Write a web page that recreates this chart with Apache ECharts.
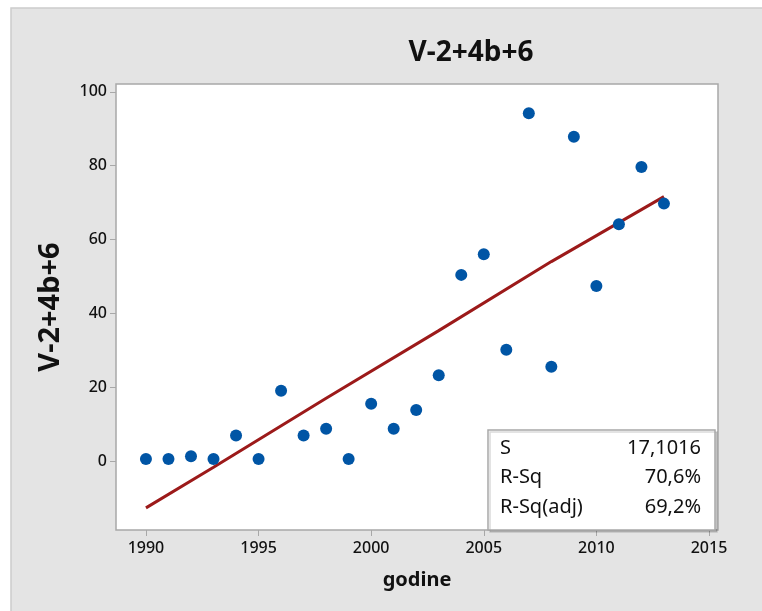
<!DOCTYPE html>
<html><head><meta charset="utf-8">
<script src="https://cdn.jsdelivr.net/npm/echarts@6/dist/echarts.min.js"></script>
<style>html,body{margin:0;padding:0;background:#fff}#c{width:762px;height:611px}</style>
</head><body><div id="c"></div>
<script>
const years = [1990,1991,1992,1993,1994,1995,1996,1997,1998,1999,2000,2001,2002,2003,2004,2005,2006,2007,2008,2009,2010,2011,2012,2013];
const values = [0.5,0.5,1.3,0.5,6.9,0.5,19.0,6.9,8.7,0.5,15.5,8.7,13.8,23.2,50.4,56.0,30.1,94.2,25.5,87.8,47.4,64.1,79.6,69.7];
const fitYears = [1990,1993,1998,2003,2008,2013];
const fitValues = [-12.7,-1.7,17.0,35.3,54.0,71.6];
const xTicks = [1990,1995,2000,2005,2010,2015];
const yTicks = [0,20,40,60,80,100];
const statNames = ['S','R-Sq','R-Sq(adj)'];
const statValues = ['17,1016','70,6%','69,2%'];
const chartTitle = 'V-2+4b+6';
const xTitle = 'godine';
const yTitle = 'V-2+4b+6';

const FONT = '"Noto Sans", "Open Sans", sans-serif';
const chart = echarts.init(document.getElementById('c'));
const statTexts = [];
statNames.forEach((n,i)=>{
  statTexts.push({type:'text', x:500, y:448+i*29.5, style:{text:n, font:'20px '+FONT, fill:'#111', textVerticalAlign:'middle'}, z:101});
  statTexts.push({type:'text', x:701, y:448+i*29.5, style:{text:statValues[i], font:'20px '+FONT, fill:'#111', textAlign:'right', textVerticalAlign:'middle'}, z:101});
});
chart.setOption({
  backgroundColor:'#ffffff',
  animation:false,
  title:{text:chartTitle, left:466, top:34, textAlign:'center',
    textStyle:{fontFamily:FONT, fontSize:28, fontWeight:'bold', color:'#111'}},
  grid:{left:116, top:84, right:44, bottom:81, show:true, backgroundColor:'#fff', borderColor:'#a8a8a8', borderWidth:1.5},
  xAxis:{type:'value', min:1988.67, max:2015.4, splitLine:{show:false},
    name:xTitle, nameLocation:'middle', nameGap:40,
    nameTextStyle:{fontFamily:FONT, fontSize:20, fontWeight:'bold', color:'#111'},
    axisLine:{show:false, onZero:false},
    axisTick:{show:true, length:6, lineStyle:{color:'#a8a8a8'}, customValues:xTicks},
    axisLabel:{fontFamily:FONT, fontSize:16, fontWeight:500, color:'#111', margin:10, customValues:xTicks, formatter:v=>String(v)}},
  yAxis:{type:'value', min:-18.7, max:102.1, splitLine:{show:false},
    name:yTitle, nameLocation:'middle', nameGap:51, nameRotate:90,
    nameTextStyle:{fontFamily:FONT, fontSize:29, fontWeight:'bold', color:'#111'},
    axisLine:{show:false, onZero:false},
    axisTick:{show:true, length:6, lineStyle:{color:'#a8a8a8'}, customValues:yTicks},
    axisLabel:{fontFamily:FONT, fontSize:16, fontWeight:500, color:'#111', margin:9, customValues:yTicks}},
  series:[
    {type:'line', data:fitYears.map((x,i)=>[x,fitValues[i]]), symbol:'none', smooth:false,
      lineStyle:{color:'#9c1a1a', width:3}, z:2},
    {type:'scatter', data:years.map((x,i)=>[x,values[i]]), symbol:'circle', symbolSize:12,
      itemStyle:{color:'#0055a5', opacity:1}, z:3}
  ],
  graphic:[
    {type:'rect', shape:{x:11, y:8, width:760, height:610}, style:{fill:'#e4e4e4', stroke:'#cccccc', lineWidth:1.5}, z:-10, silent:true},
    {type:'rect', shape:{x:488, y:430, width:227, height:100}, style:{fill:'#fff', stroke:'#a8a8a8', lineWidth:1.5, shadowColor:'rgba(0,0,0,0.15)', shadowOffsetX:2, shadowOffsetY:2}, z:100},
    ...statTexts
  ]
});
</script></body></html>
